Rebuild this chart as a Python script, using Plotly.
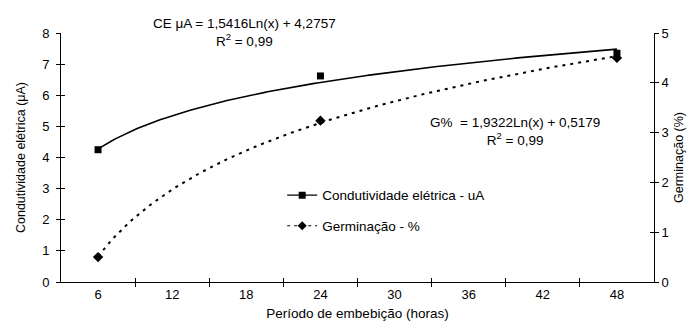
import numpy as np
import plotly.graph_objects as go

# ---- data ----
hours = [6, 12, 18, 24, 30, 36, 42, 48]          # category tick labels
tick_between = [9, 15, 21, 27, 33, 39, 45]         # tick marks between categories
obs_hours = [6, 24, 48]
ce_values = [4.25, 6.62, 7.35]                     # Condutividade elétrica (µA)
germ_values = [0.50, 3.24, 4.50]                   # Germinação (%)
ce_coef = [1.5416, 4.2757]                         # CE trend: a*Ln(x)+b (x = category index)
g_coef = [1.9322, 0.5179]                          # G% trend: a*Ln(x)+b

FONT = "Liberation Sans, Arial, sans-serif"

# trend curves as displayed by the chart's equations
xt = np.linspace(hours[0], hours[-1], 200)
idx = xt / (hours[1] - hours[0])
ce_trend = ce_coef[0] * np.log(idx) + ce_coef[1]
g_trend = g_coef[0] * np.log(idx) + g_coef[1]

fig = go.Figure()

# trend lines
fig.add_trace(go.Scatter(x=xt, y=ce_trend, mode="lines", line=dict(color="black", width=1.6),
                         showlegend=False, hoverinfo="skip", xaxis="x", yaxis="y"))
fig.add_trace(go.Scatter(x=xt, y=g_trend, mode="lines", line=dict(color="black", width=2, dash="3px,5px"),
                         showlegend=False, hoverinfo="skip", xaxis="x", yaxis="y2"))
# observed points
fig.add_trace(go.Scatter(x=obs_hours, y=ce_values, mode="markers",
                         marker=dict(symbol="square", size=7, color="black"),
                         showlegend=False, xaxis="x", yaxis="y"))
fig.add_trace(go.Scatter(x=obs_hours, y=germ_values, mode="markers",
                         marker=dict(symbol="diamond", size=8, color="black"),
                         showlegend=False, xaxis="x", yaxis="y2"))
# legend entries
fig.add_trace(go.Scatter(x=[None], y=[None], mode="lines+markers", name="Condutividade elétrica - uA",
                         line=dict(color="black", width=1.2),
                         marker=dict(symbol="square", size=7, color="black"),
                         legendgroup="a", xaxis="x", yaxis="y"))
fig.add_trace(go.Scatter(x=[None], y=[None], mode="lines+markers", name="Germinação - %",
                         line=dict(color="black", width=1, dash="3px,4px"),
                         marker=dict(symbol="diamond", size=7, color="black"),
                         legendgroup="b", xaxis="x", yaxis="y"))
# helper invisible traces for overlay (inside-tick) axes
fig.add_trace(go.Scatter(x=[None], y=[None], mode="markers", showlegend=False, hoverinfo="skip",
                         xaxis="x3", yaxis="y3"))
fig.add_trace(go.Scatter(x=[None], y=[None], mode="markers", showlegend=False, hoverinfo="skip",
                         xaxis="x3", yaxis="y4"))

xr = [hours[0] - 3, hours[-1] + 3]
tickfont = dict(family=FONT, size=13, color="black")

fig.update_layout(
    width=696, height=326,
    margin=dict(l=53, r=50, t=25, b=52),
    paper_bgcolor="white", plot_bgcolor="white",
    font=dict(family=FONT, size=13.5, color="black"),
    xaxis=dict(range=xr, tickmode="array", tickvals=hours, ticks="", showgrid=False, zeroline=False,
               showline=True, linecolor="black", linewidth=1, tickfont=tickfont,
               minor=dict(tickmode="array", tickvals=tick_between, ticks="outside", ticklen=4,
                          tickcolor="black", showgrid=False),
               title=dict(text="Período de embebição (horas)", font=dict(size=13.5), standoff=7)),
    xaxis3=dict(range=xr, overlaying="x", anchor="y", side="bottom", tickmode="array",
                tickvals=tick_between, ticks="inside", ticklen=4, tickcolor="black",
                showticklabels=False, showgrid=False, zeroline=False, showline=False),
    yaxis=dict(range=[0, 8], tickmode="array", tickvals=list(range(0, 9)), ticks="outside", ticklen=4,
               tickcolor="black", showgrid=False, zeroline=False, showline=True, linecolor="black",
               linewidth=1, tickfont=tickfont, ticklabelstandoff=4,
               title=dict(text="Condutividade elétrica (μA)", font=dict(size=12.5), standoff=13)),
    yaxis2=dict(range=[0, 5], overlaying="y", side="right", anchor="x", tickmode="array",
                tickvals=list(range(0, 6)), ticks="outside", ticklen=4, tickcolor="black",
                showgrid=False, zeroline=False, showline=True, linecolor="black", linewidth=1,
                tickfont=tickfont,
                title=dict(text="Germinação (%)", font=dict(size=12.5), standoff=6)),
    yaxis3=dict(range=[0, 8], overlaying="y", side="left", anchor="x3", tickmode="array",
                tickvals=list(range(0, 9)), ticks="inside", ticklen=4, tickcolor="black",
                showticklabels=False, showgrid=False, zeroline=False, showline=False),
    yaxis4=dict(range=[0, 5], overlaying="y", side="right", anchor="x3", tickmode="array",
                tickvals=list(range(0, 6)), ticks="inside", ticklen=4, tickcolor="black",
                showticklabels=False, showgrid=False, zeroline=False, showline=False),
    legend=dict(x=0.373, y=0.41, xanchor="left", yanchor="top", bgcolor="rgba(0,0,0,0)",
                font=dict(family=FONT, size=13.5), tracegroupgap=10, itemwidth=30),
    showlegend=True,
    annotations=[
        dict(xref="paper", yref="paper", x=0.309, y=1.004, xanchor="center", yanchor="middle",
             text="CE μA = 1,5416Ln(x) + 4,2757<br>R<sup>2</sup> = 0,99", showarrow=False,
             align="center", font=dict(family=FONT, size=13.5)),
        dict(xref="paper", yref="paper", x=0.766, y=0.606, xanchor="center", yanchor="middle",
             text="G%  = 1,9322Ln(x) + 0,5179<br>R<sup>2</sup> = 0,99", showarrow=False,
             align="center", font=dict(family=FONT, size=13.5)),
    ],
)

fig.write_html("out.html")
